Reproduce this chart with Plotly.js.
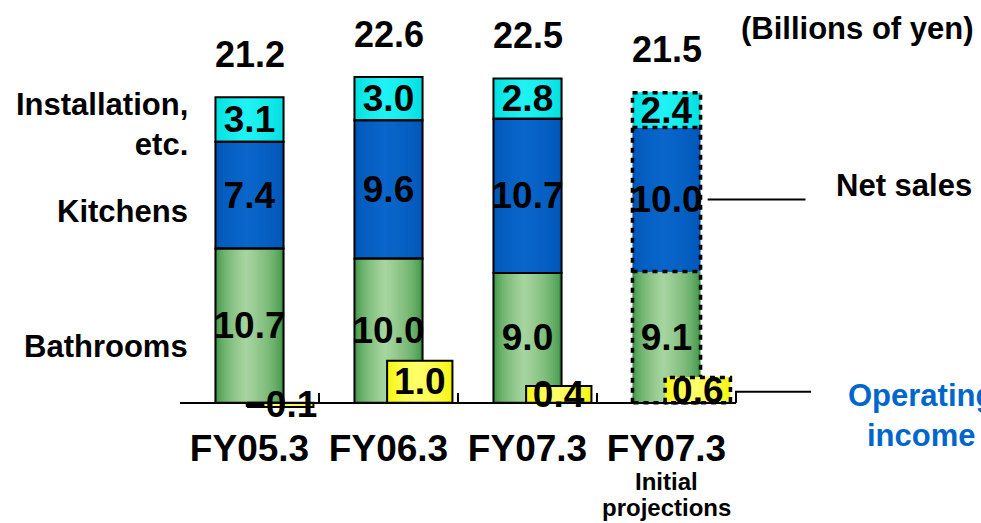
<!DOCTYPE html>
<html>
<head>
<meta charset="utf-8">
<script src="https://cdn.plot.ly/plotly-3.0.1.min.js"></script>
<style>
  html, body { margin: 0; padding: 0; background: #ffffff; }
  #chart { width: 981px; height: 523px; }
</style>
</head>
<body>
<div id="chart"></div>
<script>
// Net sales by segment and operating income (billions of yen)
const categories = ['FY05.3', 'FY06.3', 'FY07.3', 'FY07.3'];
const bathrooms = [10.7, 10.0, 9.0, 9.1];
const kitchens = [7.4, 9.6, 10.7, 10.0];
const installation = [3.1, 3.0, 2.8, 2.4];
const operatingIncome = [-0.1, 1.0, 0.4, 0.6];
const isProjection = [false, false, false, true];

const FONT = 'Liberation Sans, Arial, Helvetica, sans-serif';
const xs = categories.map((_, i) => i);

// geometry of the two value scales (sales on y, income on y2, sharing zero)
const yRange = [-3, 26];
const salesPx = 418 / (yRange[1] - yRange[0]);   // px per billion yen
const incomePx = 42;                               // px per billion yen for income
const y2Range = yRange.map(v => v * salesPx / incomePx);
const zeroFrac = (0 - yRange[0]) / (yRange[1] - yRange[0]);

const BAR_W = 0.49;
const BAR_L = -BAR_W / 2;
const INC_W = 0.47;
const INC_L = -0.01;

// stacked bases
const baseBath = xs.map(() => 0);
const baseKit = bathrooms.slice();
const baseInst = bathrooms.map((v, i) => v + kitchens[i]);
const totals = bathrooms.map((v, i) => v + kitchens[i] + installation[i]);

function hex(c) { return [1, 3, 5].map(k => parseInt(c.substr(k, 2), 16)); }
function mix(a, b, t) {
  const A = hex(a), B = hex(b);
  return 'rgb(' + A.map((v, k) => Math.round(v + (B[k] - v) * t)).join(',') + ')';
}

// horizontal shading: nested bars, lightest a little left of centre
function shadedBars(vals, base, edge, mid, left, width, xa, ya) {
  const n = 18, peak = 0.45, out = [];
  for (let j = 0; j < n; j++) {
    const f = 1 - j / n;
    out.push({
      type: 'bar', x: xs, y: vals, base: base,
      xaxis: xa, yaxis: ya,
      width: width * f,
      offset: left + peak * width * (1 - f),
      marker: { color: mix(edge, mid, Math.pow(j / (n - 1), 0.55)), line: { width: 0 } },
      hoverinfo: 'skip', showlegend: false
    });
  }
  return out;
}

function fmt(v) { return (v < 0 ? '\u2212' : '') + Math.abs(v).toFixed(1); }

// outlined, labelled overlay for each block
function outlineBars(vals, base, left, width, xa, ya) {
  return {
    type: 'bar', x: xs, y: vals, base: base,
    xaxis: xa, yaxis: ya, width: width, offset: left,
    marker: { color: 'rgba(0,0,0,0)', line: { color: '#000', width: isProjection.map(p => p ? 0 : 2) } },
    text: vals.map(fmt),
    textposition: 'inside', insidetextanchor: 'middle', textangle: 0, constraintext: 'none',
    textfont: { family: FONT, size: 37, weight: 'bold', color: '#000' },
    hoverinfo: 'skip', showlegend: false
  };
}

// dashed outline for projected columns
function dashedFrame(levels, i, left, width, xa, ya) {
  const x0 = i + left, x1 = i + left + width;
  const X = [], Y = [];
  const top = levels[levels.length - 1], bot = levels[0];
  X.push(x0, x0, x1, x1, x0, null); Y.push(bot, top, top, bot, bot, null);
  for (let k = 1; k < levels.length - 1; k++) { X.push(x0, x1, null); Y.push(levels[k], levels[k], null); }
  return {
    type: 'scatter', mode: 'lines', x: X, y: Y, xaxis: xa, yaxis: ya,
    line: { color: '#000', width: 3.5, dash: '5px,5px' },
    hoverinfo: 'skip', showlegend: false
  };
}

const traces = [];
traces.push(...shadedBars(bathrooms, baseBath, '#389240', '#a6d49e', BAR_L, BAR_W, 'x', 'y'));
traces.push(...shadedBars(kitchens, baseKit, '#0054b6', '#0a66ca', BAR_L, BAR_W, 'x', 'y'));
traces.push(...shadedBars(installation, baseInst, '#00dcdc', '#1ff2f2', BAR_L, BAR_W, 'x', 'y'));
traces.push(outlineBars(bathrooms, baseBath, BAR_L, BAR_W, 'x', 'y'));
traces.push(outlineBars(kitchens, baseKit, BAR_L, BAR_W, 'x', 'y'));
traces.push(outlineBars(installation, baseInst, BAR_L, BAR_W, 'x', 'y'));
isProjection.forEach((p, i) => {
  if (p) traces.push(dashedFrame([0, baseKit[i], baseInst[i], totals[i]], i, BAR_L, BAR_W, 'x', 'y'));
});

traces.push(...shadedBars(operatingIncome, xs.map(() => 0), '#f4f400', '#ffff6a', INC_L, INC_W, 'x2', 'y2'));
traces.push(outlineBars(operatingIncome, xs.map(() => 0), INC_L, INC_W, 'x2', 'y2'));
isProjection.forEach((p, i) => {
  if (p) traces.push(dashedFrame([0, operatingIncome[i]], i, INC_L, INC_W, 'x2', 'y2'));
});

const bold = (size, color) => ({ family: FONT, size: size, weight: 'bold', color: color || '#000' });

const annotations = [];
totals.forEach((t, i) => annotations.push({
  x: i, y: t, xref: 'x', yref: 'y', text: t.toFixed(1), showarrow: false,
  yanchor: 'middle', yshift: 43, font: bold(36)
}));
// segment names at the left
[['Installation,<br>etc.', 0.770], ['Kitchens', 0.562], ['Bathrooms', 0.239]].forEach(([t, y]) =>
  annotations.push({ x: 0, y: y, xref: 'paper', yref: 'paper', xanchor: 'right', yanchor: 'middle',
    xshift: 10, align: 'right', text: t, showarrow: false, font: bold(31) }));
annotations.push({ x: 1.005, y: 1.0, xref: 'paper', yref: 'paper', xanchor: 'left', yanchor: 'middle',
  text: '(Billions of yen)', showarrow: false, font: bold(31) });
annotations.push({ x: 1.176, y: 0.624, xref: 'paper', yref: 'paper', xanchor: 'left', yanchor: 'middle',
  text: 'Net sales', showarrow: false, font: bold(31) });
annotations.push({ x: 1.198, y: 0.074, xref: 'paper', yref: 'paper', xanchor: 'left', yanchor: 'middle',
  align: 'center', text: 'Operating<br>income', showarrow: false, font: bold(31, '#0066cc') });
annotations.push({ x: 3, y: -0.085, xref: 'x', yref: 'paper', yanchor: 'middle',
  text: 'Initial', showarrow: false, font: bold(24) });
annotations.push({ x: 3, y: -0.146, xref: 'x', yref: 'paper', yanchor: 'middle',
  text: 'projections', showarrow: false, font: bold(24) });

const layout = {
  width: 981, height: 523,
  margin: { l: 180, r: 245, t: 28, b: 77 },
  paper_bgcolor: '#ffffff', plot_bgcolor: '#ffffff',
  barmode: 'overlay', showlegend: false,
  xaxis: {
    range: [-0.5, 3.5], anchor: 'free', position: zeroFrac,
    tickmode: 'array', tickvals: xs, ticktext: categories, ticks: '',
    ticklabelstandoff: 13,
    tickfont: bold(37),
    showline: true, linecolor: '#000', linewidth: 2,
    showgrid: false, zeroline: false, fixedrange: true
  },
  xaxis2: {
    range: [-0.5, 3.5], overlaying: 'x', anchor: 'free', position: zeroFrac,
    tickmode: 'array', tickvals: [-0.5, 0.5, 1.5, 2.5, 3.5],
    ticks: 'inside', ticklen: 10, tickwidth: 2, tickcolor: '#000',
    showticklabels: false, showline: false, showgrid: false, zeroline: false, fixedrange: true
  },
  yaxis: { range: yRange, visible: false, fixedrange: true },
  yaxis2: { range: y2Range, overlaying: 'y', visible: false, fixedrange: true },
  annotations: annotations,
  shapes: [
    { type: 'line', xref: 'paper', yref: 'paper', x0: 0.949, x1: 1.125, y0: 0.59, y1: 0.59,
      line: { color: '#000', width: 2 } },
    { type: 'path', xref: 'paper', yref: 'paper',
      path: 'M 1.0 ' + zeroFrac + ' L 1.0 0.13 L 1.135 0.13',
      line: { color: '#000', width: 2 } }
  ]
};

Plotly.newPlot('chart', traces, layout, { staticPlot: true, displayModeBar: false });
</script>
</body>
</html>
